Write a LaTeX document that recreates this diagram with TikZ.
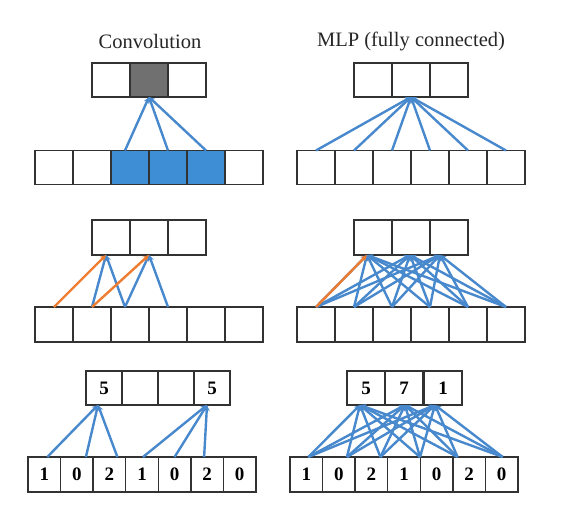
\documentclass[tikz,border=0pt]{standalone}
\usepackage{fontspec}
\setmainfont{Liberation Serif}
\usetikzlibrary{arrows.meta}

\definecolor{cellline}{RGB}{50,50,50}
\definecolor{linkblue}{RGB}{72,136,204}
\definecolor{cellblue}{RGB}{62,142,214}
\definecolor{cellgray}{RGB}{112,112,112}
\definecolor{linkorange}{RGB}{237,125,49}

\tikzset{
  cell/.style={draw=cellline, line width=1.5pt, minimum height=34pt, inner sep=0pt, outer sep=0pt, font=\fontsize{19}{19}\selectfont\bfseries},
  wide/.style={cell, minimum width=38pt},
  slim/.style={cell, minimum width=32.6pt},
  mid/.style={cell, minimum width=36pt},
  link/.style={draw=linkblue, line width=2.4pt, -{Stealth[length=6pt,width=6pt]}},
  shared/.style={link, draw=linkorange},
  title/.style={font=\fontsize{20.5}{24}\selectfont, text=black!85}
}

\begin{document}
\begin{tikzpicture}[x=1pt, y=-1pt]
	\useasboundingbox (0,0) rectangle (562,516);
	
	% Titles
	\node[title] (tconv) at (150,41) {Convolution};
	\node[title] (tmlp) at (411,41) {MLP (fully connected)};
	
	% --- ROW 1: one output unit ---
	\foreach \i/\x in {1/111,2/149,3/187} {
		\node[wide] (ca-\i) at (\x,80) {};
		\node[wide] (ma-\i) at (\x+262,80) {};
	}
	\node[wide, fill=cellgray] at (ca-2) {};
	\foreach \i/\x in {1/54,2/92,3/130,4/168,5/206,6/244} {
		\node[wide] (cb-\i) at (\x,167.5) {};
		\node[wide] (mb-\i) at (\x+262,167.5) {};
	}
	\foreach \i in {3,4,5} \node[wide, fill=cellblue] at (cb-\i) {};
	
	% conv: three inputs
	\draw[link] ([xshift=-5]cb-3.north) -- (ca-2.south);
	\draw[link] (cb-4.north) -- (ca-2.south);
	\draw[link] (cb-5.north) -- (ca-2.south);
	% mlp: every input
	\foreach \i in {1,...,6} \draw[link] (mb-\i.north) -- (ma-2.south);
	
	% --- ROW 2: weight sharing ---
	\foreach \i/\x in {1/111,2/149,3/187} {
		\node[wide, minimum height=35pt] (cc-\i) at (\x,237.5) {};
		\node[wide, minimum height=35pt] (mc-\i) at (\x+262,237.5) {};
	}
	\foreach \i/\x in {1/54,2/92,3/130,4/168,5/206,6/244} {
		\node[wide, minimum height=35pt] (cd-\i) at (\x,324.5) {};
		\node[wide, minimum height=35pt] (md-\i) at (\x+262,324.5) {};
	}
	
	% conv: same kernel slides
	\draw[link] (cd-2.north) -- ([xshift=-5]cc-1.south);
	\draw[link] ([xshift=-5]cd-3.north) -- ([xshift=-5]cc-1.south);
	\draw[link] ([xshift=-5]cd-3.north) -- (cc-2.south);
	\draw[link] (cd-4.north) -- (cc-2.south);
	\draw[shared] (cd-1.north) -- ([xshift=-5]cc-1.south);
	\draw[shared] (cd-2.north) -- (cc-2.south);
	
	% mlp: all to all
	\foreach \t/\s in {1/-6,2/-1,3/-9}
		\foreach \i in {1,...,6}
			\draw[link] (md-\i.north) -- ([xshift=\s]mc-\t.south);
	\draw[shared] (md-1.north) -- ([xshift=-6]mc-1.south);
	
	% --- ROW 3: numbers ---
	\foreach \i/\x/\v in {1/104/5,2/140/,3/176/,4/212/5}
		\node[mid] (ce-\i) at (\x,388) {\v};
	\foreach \i/\x/\v in {1/44.3/1,2/76.9/0,3/109.4/2,4/142/1,5/174.6/0,6/207.1/2,7/239.7/0}
		\node[slim, minimum height=35pt] (cf-\i) at (\x,474.5) {\v};
	\foreach \i/\x/\v in {1/366/5,2/404/7,3/443/1}
		\node[wide, minimum width=38.3pt] (me-\i) at (\x,388) {\v};
	\foreach \i/\x/\v in {1/306.3/1,2/338.9/0,3/371.4/2,4/404/1,5/436.6/0,6/469.1/2,7/501.7/0}
		\node[slim, minimum height=35pt] (mf-\i) at (\x,474.5) {\v};
	
	% conv: stride three
	\draw[link] ([xshift=3]cf-1.north) -- ([xshift=-6]ce-1.south);
	\draw[link] ([xshift=9]cf-2.north) -- ([xshift=-6]ce-1.south);
	\draw[link] ([xshift=8]cf-3.north) -- ([xshift=-6]ce-1.south);
	\draw[link] ([xshift=1]cf-4.north) -- ([xshift=-5]ce-4.south);
	\draw[link] (cf-5.north) -- ([xshift=-5]ce-4.south);
	\draw[link] ([xshift=-3]cf-6.north) -- ([xshift=-5]ce-4.south);
	
	% mlp: all to all
	\foreach \t/\s in {1/-6,2/1,3/-8}
		\foreach \i/\d in {1/2,2/8,3/9,4/16,5/21,7/1}
			\draw[link] ([xshift=\d]mf-\i.north) -- ([xshift=\s]me-\t.south);
\end{tikzpicture}
\end{document}
